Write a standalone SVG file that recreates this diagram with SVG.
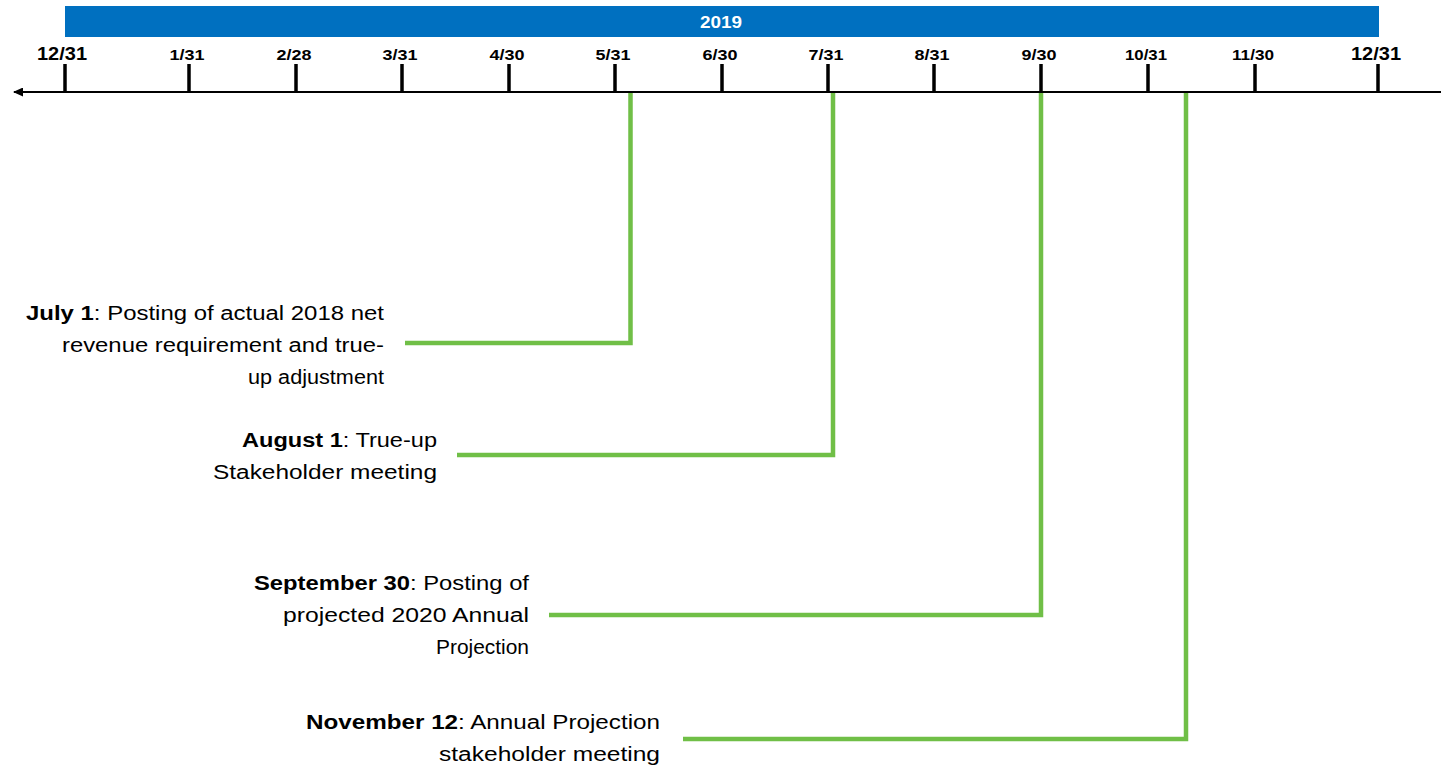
<svg xmlns="http://www.w3.org/2000/svg" width="1441" height="766" viewBox="0 0 1441 766">
<defs>
<style>
.tick{stroke:#000;stroke-width:3.5}
.lbl{font-family:"Liberation Sans",Arial,sans-serif;font-weight:bold;font-size:15px;fill:#000;text-anchor:middle}
.big{font-size:18px}
.con{fill:none;stroke:#70BF47;stroke-width:4.5;stroke-linejoin:miter}
.txt{font-family:"Liberation Sans",Arial,sans-serif;font-size:20px;fill:#000;text-anchor:end}
.b{font-weight:bold}
</style>
<marker id="arr" markerWidth="10" markerHeight="9" refX="9" refY="4.5" orient="auto" markerUnits="userSpaceOnUse">
<path d="M10,4.5 L0,0 L0,9 Z" fill="#000"/>
</marker>
</defs>
<rect width="1441" height="766" fill="#fff"/>
<g id="header">
<rect x="65" y="6" width="1314" height="31" fill="#0070C0"/>
<text x="721" y="28" font-family="'Liberation Sans',Arial,sans-serif" font-weight="bold" font-size="17" fill="#fff" text-anchor="middle" textLength="42" lengthAdjust="spacingAndGlyphs">2019</text>
</g>
<g id="axis">
<line x1="1441" y1="92" x2="14" y2="92" stroke="#000" stroke-width="2" marker-end="url(#arr)"/>
<g id="ticks">
<line class="tick" x1="65" y1="64" x2="65" y2="92"/>
<line class="tick" x1="189" y1="64" x2="189" y2="92"/>
<line class="tick" x1="296" y1="64" x2="296" y2="92"/>
<line class="tick" x1="402" y1="64" x2="402" y2="92"/>
<line class="tick" x1="509" y1="64" x2="509" y2="92"/>
<line class="tick" x1="615" y1="64" x2="615" y2="92"/>
<line class="tick" x1="722" y1="64" x2="722" y2="92"/>
<line class="tick" x1="828" y1="64" x2="828" y2="92"/>
<line class="tick" x1="934" y1="64" x2="934" y2="92"/>
<line class="tick" x1="1041" y1="64" x2="1041" y2="92"/>
<line class="tick" x1="1148" y1="64" x2="1148" y2="92"/>
<line class="tick" x1="1255" y1="64" x2="1255" y2="92"/>
<line class="tick" x1="1378" y1="64" x2="1378" y2="92"/>
</g>
<g id="tick-labels">
<text class="lbl big" x="62" y="60" textLength="50" lengthAdjust="spacingAndGlyphs">12/31</text>
<text class="lbl" x="187" y="60" textLength="35" lengthAdjust="spacingAndGlyphs">1/31</text>
<text class="lbl" x="294" y="60" textLength="35" lengthAdjust="spacingAndGlyphs">2/28</text>
<text class="lbl" x="400" y="60" textLength="35" lengthAdjust="spacingAndGlyphs">3/31</text>
<text class="lbl" x="507" y="60" textLength="35" lengthAdjust="spacingAndGlyphs">4/30</text>
<text class="lbl" x="613" y="60" textLength="35" lengthAdjust="spacingAndGlyphs">5/31</text>
<text class="lbl" x="720" y="60" textLength="35" lengthAdjust="spacingAndGlyphs">6/30</text>
<text class="lbl" x="826" y="60" textLength="35" lengthAdjust="spacingAndGlyphs">7/31</text>
<text class="lbl" x="932" y="60" textLength="35" lengthAdjust="spacingAndGlyphs">8/31</text>
<text class="lbl" x="1039" y="60" textLength="35" lengthAdjust="spacingAndGlyphs">9/30</text>
<text class="lbl" x="1146" y="60" textLength="42" lengthAdjust="spacingAndGlyphs">10/31</text>
<text class="lbl" x="1253" y="60" textLength="42" lengthAdjust="spacingAndGlyphs">11/30</text>
<text class="lbl big" x="1376" y="60" textLength="50" lengthAdjust="spacingAndGlyphs">12/31</text>
</g>
</g>
<g id="connectors">
<polyline class="con" points="630.5,93 630.5,343 405,343"/>
<polyline class="con" points="833,93 833,455 457,455"/>
<polyline class="con" points="1041,93 1041,615 549,615"/>
<polyline class="con" points="1186,93 1186,739 683,739"/>
</g>
<g id="event-july1">
<text class="txt" x="384" y="320" textLength="358" lengthAdjust="spacingAndGlyphs"><tspan class="b">July 1</tspan>: Posting of actual 2018 net</text>
<text class="txt" x="384" y="352" textLength="322" lengthAdjust="spacingAndGlyphs">revenue requirement and true-</text>
<text class="txt" x="384" y="384" textLength="136" lengthAdjust="spacingAndGlyphs">up adjustment</text>
</g>
<g id="event-aug1">
<text class="txt" x="437" y="447" textLength="195" lengthAdjust="spacingAndGlyphs"><tspan class="b">August 1</tspan>: True-up</text>
<text class="txt" x="437" y="479" textLength="224" lengthAdjust="spacingAndGlyphs">Stakeholder meeting</text>
</g>
<g id="event-sep30">
<text class="txt" x="529" y="590" textLength="275" lengthAdjust="spacingAndGlyphs"><tspan class="b">September 30</tspan>: Posting of</text>
<text class="txt" x="529" y="622" textLength="246" lengthAdjust="spacingAndGlyphs">projected 2020 Annual</text>
<text class="txt" x="529" y="654" textLength="93" lengthAdjust="spacingAndGlyphs">Projection</text>
</g>
<g id="event-nov12">
<text class="txt" x="660" y="729" textLength="354" lengthAdjust="spacingAndGlyphs"><tspan class="b">November 12</tspan>: Annual Projection</text>
<text class="txt" x="660" y="761" textLength="221" lengthAdjust="spacingAndGlyphs">stakeholder meeting</text>
</g>
</svg>
